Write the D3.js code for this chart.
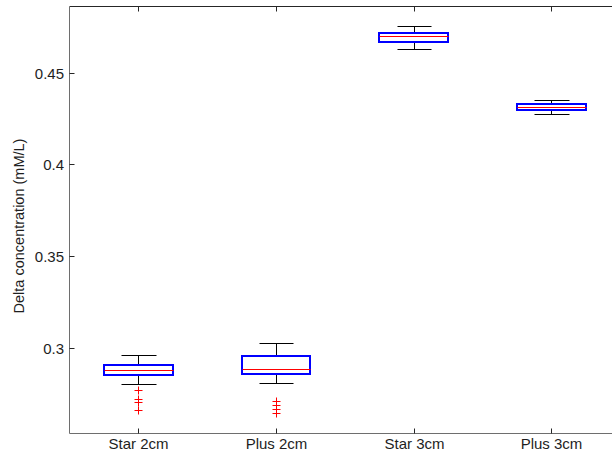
<!DOCTYPE html>
<html>
<head>
<meta charset="utf-8">
<script src="https://cdn.jsdelivr.net/npm/d3@7"></script>
<style>
  body { margin: 0; background: #fff; }
  text { font-family: "Liberation Sans", Arial, sans-serif; fill: #1e1e1e; }
</style>
</head>
<body>
<div id="chart"></div>
<script>
var svgWidth = 612;
var svgHeight = 456;

// chart values
var groups = ["Star 2cm", "Plus 2cm", "Star 3cm", "Plus 3cm"];
var whiskerLow  = [0.2802, 0.2807, 0.4628, 0.4276];
var q1          = [0.2853, 0.2858, 0.4667, 0.4297];
var median      = [0.2877, 0.2885, 0.4699, 0.4315];
var q3          = [0.2906, 0.2955, 0.4718, 0.4328];
var whiskerHigh = [0.2962, 0.3027, 0.4756, 0.4351];
var outliers = [
  [0.2772, 0.2719, 0.2707, 0.2660],
  [0.2709, 0.2687, 0.2668, 0.2644],
  [],
  []
];
var yTicks = [0.3, 0.35, 0.4, 0.45];

var margin = { top: 6.5, left: 69.5, bottom: 433.5 };

var svg = d3.select("#chart")
  .append("svg")
  .attr("width", svgWidth)
  .attr("height", svgHeight);

// the plot runs a little past the right edge of the picture
var x = d3.scaleLinear().domain([0.5, 4.65]).range([margin.left, margin.left + 4.15 * 137.7]);
var y = d3.scaleLinear().domain([0.2533, 0.486]).range([margin.bottom, margin.top]);

var px = function(v) { return Math.round(v) + 0.5; };

// frame
svg.append("line")
  .attr("x1", margin.left).attr("x2", svgWidth)
  .attr("y1", margin.top).attr("y2", margin.top)
  .attr("stroke", "#262626").attr("stroke-width", 1);
svg.append("line")
  .attr("x1", margin.left).attr("x2", svgWidth)
  .attr("y1", margin.bottom).attr("y2", margin.bottom)
  .attr("stroke", "#6e6e6e").attr("stroke-width", 1);
svg.append("line")
  .attr("x1", margin.left).attr("x2", margin.left)
  .attr("y1", margin.top).attr("y2", margin.bottom)
  .attr("stroke", "#6e6e6e").attr("stroke-width", 1);

// y ticks (inward) and labels
yTicks.forEach(function(t) {
  var yy = px(y(t));
  svg.append("line")
    .attr("x1", margin.left).attr("x2", margin.left + 5)
    .attr("y1", yy).attr("y2", yy)
    .attr("stroke", "#262626");
  svg.append("text")
    .attr("x", 64)
    .attr("y", yy + 5)
    .attr("text-anchor", "end")
    .attr("font-size", "15px")
    .text(String(t));
});

// x ticks and labels
groups.forEach(function(g, i) {
  var xx = px(x(i + 1));
  svg.append("line")
    .attr("x1", xx).attr("x2", xx)
    .attr("y1", margin.bottom).attr("y2", margin.bottom - 5)
    .attr("stroke", "#262626");
  svg.append("line")
    .attr("x1", xx).attr("x2", xx)
    .attr("y1", margin.top).attr("y2", margin.top + 5)
    .attr("stroke", "#262626");
  svg.append("text")
    .attr("x", xx)
    .attr("y", 449)
    .attr("text-anchor", "middle")
    .attr("font-size", "15px")
    .text(g);
});

// y axis label
svg.append("text")
  .attr("transform", "translate(24, 226) rotate(-90)")
  .attr("text-anchor", "middle")
  .attr("font-size", "14.5px")
  .text("Delta concentration (mM/L)");

// boxes
var boxHalf = 0.25;
var capHalf = 0.125;

groups.forEach(function(g, i) {
  var c = i + 1;
  var xc = px(x(c));
  var xl = px(x(c - boxHalf));
  var xr = px(x(c + boxHalf));
  var cl = px(x(c - capHalf));
  var cr = px(x(c + capHalf));

  // whiskers
  svg.append("line")
    .attr("x1", xc).attr("x2", xc)
    .attr("y1", px(y(q3[i]))).attr("y2", px(y(whiskerHigh[i])))
    .attr("stroke", "#000");
  svg.append("line")
    .attr("x1", xc).attr("x2", xc)
    .attr("y1", px(y(q1[i]))).attr("y2", px(y(whiskerLow[i])))
    .attr("stroke", "#000");
  // caps
  svg.append("line")
    .attr("x1", cl).attr("x2", cr)
    .attr("y1", px(y(whiskerHigh[i]))).attr("y2", px(y(whiskerHigh[i])))
    .attr("stroke", "#000");
  svg.append("line")
    .attr("x1", cl).attr("x2", cr)
    .attr("y1", px(y(whiskerLow[i]))).attr("y2", px(y(whiskerLow[i])))
    .attr("stroke", "#000");

  // box
  var yt = Math.round(y(q3[i]));
  var yb = Math.round(y(q1[i]));
  svg.append("rect")
    .attr("x", Math.round(x(c - boxHalf)))
    .attr("y", yt)
    .attr("width", Math.round(x(c + boxHalf)) - Math.round(x(c - boxHalf)))
    .attr("height", yb - yt)
    .attr("fill", "none")
    .attr("stroke", "#0000ff")
    .attr("stroke-width", 2);

  // median
  svg.append("line")
    .attr("x1", xl).attr("x2", xr)
    .attr("y1", px(y(median[i]))).attr("y2", px(y(median[i])))
    .attr("stroke", "#ff0000");

  // outliers
  outliers[i].forEach(function(o) {
    var oy = px(y(o));
    svg.append("path")
      .attr("d", "M" + (xc - 4) + "," + oy + "H" + (xc + 4) + "M" + xc + "," + (oy - 4) + "V" + (oy + 4))
      .attr("stroke", "#ff0000")
      .attr("fill", "none");
  });
});
</script>
</body>
</html>
